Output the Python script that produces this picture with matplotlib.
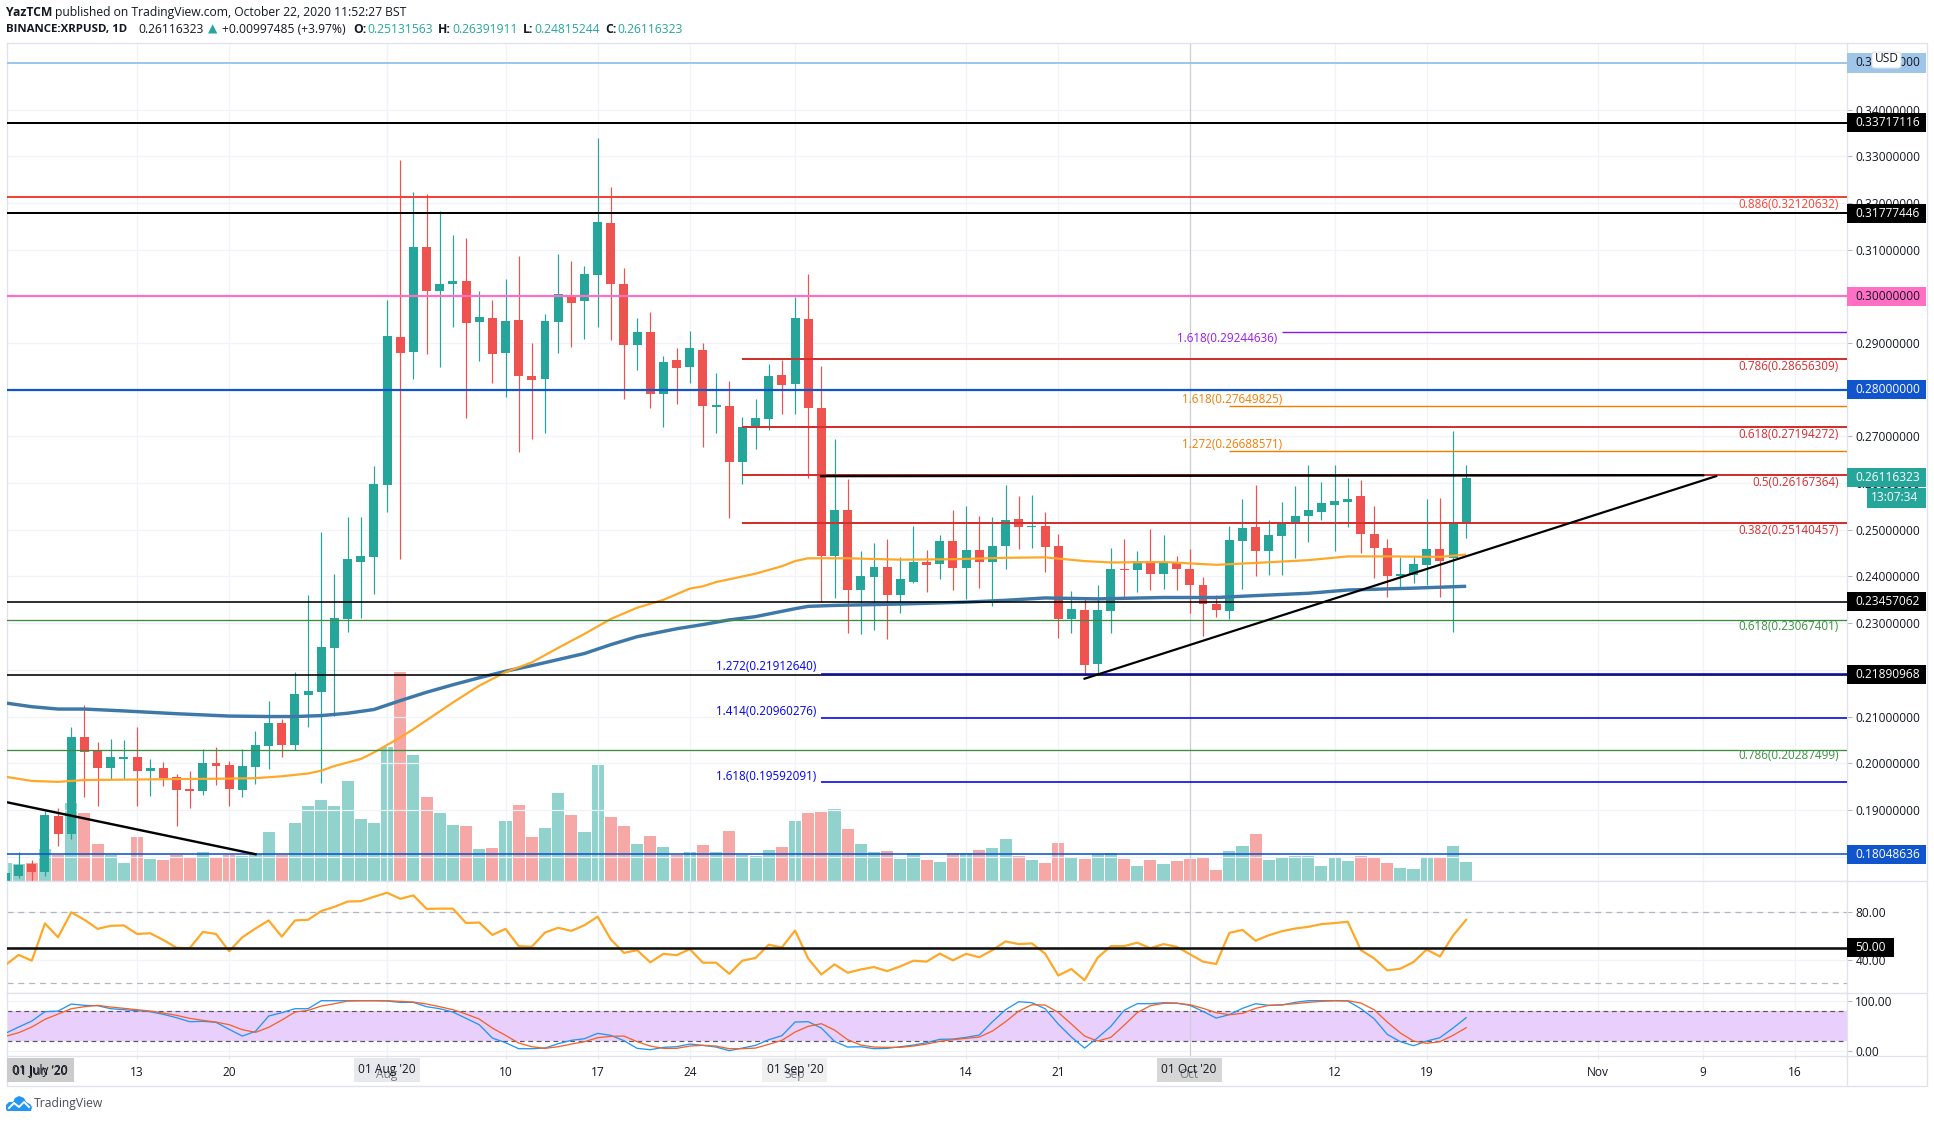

import numpy as np
import matplotlib
matplotlib.use('Agg')
import matplotlib.pyplot as plt
from matplotlib.patches import Rectangle, FancyBboxPatch, Polygon
from matplotlib.lines import Line2D

plt.rcParams['font.family'] = 'Open Sans'

W = 1934
H = 1122

# day number, 1 = 01 Jul 2020
days = np.arange(3, 115)

opens = [.1748,.1759,.1784,.1767,.1887,.1849,.2057,.2027,.1990,.2010,.2014,.1984,.1990,.1971,.1945,.1941,.2001,.1997,.1943,.1992,.2037,.2087,.2040,.2147,.2153,.2246,.2308,.2432,.2441,
         .2597,.2913,.2880,.3106,.3011,.3026,.3033,.2945,.2953,.2878,.2949,.2829,.2822,.2945,.2998,.2990,.3046,.3157,.3026,.2895,.2923,.2790,.2863,.2848,.2885,.2763,.2765,.2645,.2722,.2737,.2831,
         .2812,.2951,.2760,.2443,.2542,.2372,.2398,.2421,.2361,.2389,.2430,.2426,.2475,.2419,.2456,.2432,.2466,.2524,.2507,.2509,.2466,.2308,.2329,.2213,.2327,.2417,.2413,.2434,.2406,.2428,
         .2417,.2381,.2340,.2325,.2477,.2505,.2454,.2486,.2516,.2529,.2539,.2554,.2559,.2572,.2492,.2460,.2402,.2404,.2424,.2458,.2439,.25131563]
highs = [.1764,.1810,.1793,.1898,.1905,.2078,.2125,.2046,.2052,.2050,.2078,.2010,.2003,.1977,.1984,.2031,.2035,.2005,.2031,.2070,.2134,.2095,.2196,.2361,.2496,.2406,.2527,.2527,.2636,
         .2992,.3292,.3224,.3219,.3183,.3131,.3125,.3011,.2992,.3037,.3086,.2900,.2962,.3091,.3076,.3065,.3340,.3234,.3061,.2953,.2966,.2872,.2889,.2925,.2901,.2835,.2818,.2741,.2781,.2855,.2863,
         .2998,.3048,.2850,.2694,.2608,.2454,.2471,.2481,.2441,.2509,.2456,.2488,.2542,.2552,.2529,.2527,.2595,.2572,.2574,.2539,.2490,.2368,.2355,.2381,.2462,.2481,.2454,.2501,.2488,.2443,
         .2458,.2398,.2361,.2509,.2567,.2597,.2520,.2559,.2593,.2638,.2602,.2638,.2610,.2606,.2550,.2481,.2441,.2443,.2567,.2569,.2711,.26391911]
lows = [.1746,.1755,.1746,.1759,.1823,.1837,.1928,.1909,.1966,.1966,.1909,.1930,.1952,.1866,.1905,.1932,.1954,.1909,.1928,.1956,.1987,.2014,.2029,.2078,.1958,.2102,.2280,.2310,.2363,
        .2539,.2437,.2823,.2876,.2848,.2934,.2739,.2861,.2814,.2784,.2667,.2695,.2707,.2878,.2891,.2908,.2934,.2906,.2781,.2842,.2761,.2720,.2770,.2814,.2677,.2707,.2525,.2598,.2673,.2714,.2748,
        .2748,.2612,.2346,.2353,.2278,.2276,.2286,.2267,.2321,.2385,.2366,.2394,.2370,.2351,.2376,.2336,.2417,.2458,.2462,.2409,.2269,.2278,.2188,.2191,.2278,.2355,.2366,.2372,.2374,.2370,
        .2321,.2273,.2314,.2308,.2374,.2400,.2404,.2404,.2439,.2473,.2522,.2454,.2507,.2451,.2396,.2357,.2376,.2387,.2381,.2355,.2280,.24815244]
closes = [.1764,.1782,.1767,.1889,.1849,.2057,.2025,.1989,.2014,.2014,.1984,.1990,.1969,.1943,.1941,.2001,.1995,.1945,.1995,.2040,.2087,.2040,.2149,.2155,.2248,.2310,.2437,.2443,.2599,
          .2915,.2878,.3106,.3011,.3026,.3033,.2943,.2956,.2876,.2947,.2829,.2820,.2947,.3005,.2985,.3048,.3159,.3026,.2895,.2923,.2790,.2859,.2846,.2889,.2765,.2767,.2645,.2720,.2739,.2829,.2810,
          .2953,.2760,.2443,.2542,.2372,.2400,.2421,.2361,.2394,.2432,.2424,.2475,.2419,.2456,.2432,.2466,.2520,.2505,.2509,.2464,.2308,.2331,.2211,.2329,.2415,.2413,.2434,.2406,.2428,.2417,
          .2381,.2340,.2329,.2479,.2503,.2454,.2488,.2514,.2529,.2542,.2557,.2561,.2567,.2492,.2460,.2400,.2406,.2426,.2458,.2434,.2514,.26116323]

volume = [54,51,54,96,78,234,204,111,78,54,132,66,63,78,69,87,72,78,75,81,147,78,174,225,243,225,300,186,174,
          402,627,378,252,204,168,165,96,99,180,228,132,159,264,198,147,348,192,165,111,135,102,78,87,108,87,150,78,75,93,102,
          180,204,207,216,156,111,87,90,66,84,63,57,84,84,93,99,126,75,63,54,114,69,66,81,84,66,45,63,51,60,
          66,69,33,90,105,141,63,69,75,75,45,72,60,75,72,54,39,36,72,69,105,57]

rsi = [35.4,44,39.1,70.6,58.9,80,73.7,66,68.6,68.9,61.7,62.3,56.6,50,49.7,63.4,61.7,47.1,58.9,66.3,73.1,59.4,73.1,73.7,81.1,84.6,89.1,89.4,93.1,
       96.6,91.4,94.3,82.9,83.1,83.1,70.9,71.4,60.9,66,51.4,50.9,62.9,66.9,64.3,69.1,76.3,57.1,45.7,48,37.7,44.9,43.7,48.9,37.4,37.4,28,39.1,41.4,52.6,50.3,
       64.6,40.9,27.4,36,28.9,31.7,33.7,30.3,34.3,39.1,38.3,45.1,39.4,44.9,42,48,55.4,53.1,53.7,45.1,26.6,32,22.6,41.7,51.4,51.4,54.3,49.7,53.1,50.9,
       44.6,38.3,36.3,62.6,65.1,56,60.6,64,66.3,67.7,70,70.9,72,48,41.1,30.9,32.3,38,48.6,42.6,60.3,73.7]

stoch_k = [34.7,47.3,59.3,78,79.3,93.3,90.7,90,84,82,80,78,72.7,66,58,58.7,56.7,42.7,29.3,38.7,69.3,76,84,84,100,100,100,100,100,
           99.3,96.7,96.7,88,84,77.3,64.7,52,25.3,16,4,4,5.3,14,20.7,24,34.7,30.7,20,4.7,2,6.7,8,13.3,10.7,7.3,0,5.3,10.7,22,30,
           57.3,58,45.3,18.7,7.3,8,4,4.7,8,11.3,16,22.7,23.3,26.7,31.3,58,82,98,96,84,53.3,27.3,5.3,26,48.7,80.7,94,94,96,95.3,
           90.7,78.7,65.3,72,84.7,94,90.7,91.3,96.7,100,100,100,99.3,84,64,32.7,18,10,19.3,26,45.3,66]
stoch_d = [28.7,36,47.3,62.7,73.3,84,88,90.7,87.3,84.7,82,79.3,75.3,70.7,64.7,60.7,57.3,52,42,36.7,46.7,61.3,77.3,80.7,89.3,94,99.3,100,100,
           100,98.7,97.3,93.3,88,82,73.3,63.3,45.3,30.7,15.3,8,4.7,8,13.3,18,26,28.7,29.3,18,9.3,4.7,4.7,9.3,10.7,9.3,4,4,5.3,12.7,20.7,
           37.3,48.7,54,41.3,22,11.3,7.3,6.7,6.7,9.3,13.3,18.7,22,24.7,27.3,39.3,58,79.3,92,91.3,76.7,53.3,29.3,19.3,26.7,50.7,76,90,94.7,94.7,
           92,84.7,76,72,74.7,84.7,90.7,92,94,96.7,98.7,100,100,95.3,82,57.3,35.3,19.3,14.7,18,30.7,46]

ma_slow_days = [3,5,7,9,12,16,20,23,25,27,29,31,33,35,37,39,41,43,47,49,51,54,56,58,60,63,64,66,71,76,79,82,86,91,95,98,102,105,110,114]
ma_slow = [.2129,.2121,.2116,.2116,.2112,.2106,.2101,.2100,.2100,.2102,.2107,.2115,.2134,.2152,.2168,.2183,.2197,.2209,.2235,.2254,.2271,.2288,.2297,
           .2307,.2314,.2331,.2336,.2338,.2341,.2345,.2349,.2354,.2352,.2355,.2355,.2359,.2364,.2371,.2375,.2379]
ma_fast_days = [3,5,7,9,13,16,20,22,24,26,27,28,30,31,33,34,37,39,41,43,45,47,49,51,53,55,56,57,60,62,63,64,67,71,75,79,82,85,87,91,95,98,102,105,108,112,114]
ma_fast = [.1971,.1962,.1960,.1964,.1965,.1966,.1967,.1968,.1972,.1978,.1984,.1994,.2009,.2023,.2055,.2073,.2130,.2166,.2195,.2216,.2247,.2277,.2309,.2333,.2350,.2374,.2379,
           .2388,.2406,.2422,.2433,.2439,.2439,.2436,.2437,.2440,.2441,.2433,.2430,.2431,.2425,.2429,.2435,.2443,.2443,.2442,.2447]

price_ticks = [.34,.33,.32,.31,.30,.29,.28,.27,.26,.25,.24,.23,.22,.21,.20,.19,.18]
time_tick_days = [13,20,41,48,55,76,83,104,111,124,132,139]
time_tick_labels = ['13','20','10','17','24','14','21','12','19','Nov','9','16']
month_days = [32,63,93]

# horizontal levels: price, colour, width in px
full_levels = [(.35,'#9fc5e8',2),(.33717116,'#000000',2),(.32120632,'#f44336',2),(.31777446,'#000000',2),
               (.30,'#ff70c5',2.2),(.28,'#1155cc',2.2),(.23457062,'#000000',1.6),(.23067401,'#3d8b40',1.3),
               (.21890968,'#000000',1.6),(.20287499,'#3d8b40',1.3),(.18048636,'#1155cc',1.6)]
fib_red = [.28656309,.27194272,.26167364,.25140457]
fib_blue = [.21912640,.20960276,.19592091]
fib_orange = [.27649825,.26688571]
fib_purple = [.29244636]

trend_up_days = [85,133]
trend_up = [.2181,.2615]
trend_down_days = [3,22]
trend_down = [.1917,.1805]
resist_days = [65,132]
resist = [.2615,.2617]

fib_labels = [('0.886(0.32120632)',1839,204.6,'#f44336'),('0.786(0.28656309)',1839,366.7,'#d32f2f'),
              ('0.618(0.27194272)',1839,434.6,'#d32f2f'),('0.5(0.26167364)',1839,482.4,'#d32f2f'),
              ('0.382(0.25140457)',1839,530,'#d32f2f'),('0.618(0.23067401)',1839,626,'#3d9142'),
              ('0.786(0.20287499)',1839,755.6,'#3d9142'),('1.618(0.29244636)',1277,338.7,'#9b19e6'),
              ('1.618(0.27649825)',1282,399.7,'#f57c00'),('1.272(0.26688571)',1282,445,'#f57c00'),
              ('1.272(0.21912640)',816,666.7,'#0000f0'),('1.414(0.20960276)',816,711.7,'#0000f0'),
              ('1.618(0.19592091)',816,776,'#0000f0')]

# price badges: price, text, background, text colour
badges = [(.35,'0.35000000','#9fc5e8','#131722'),(.33717116,'0.33717116','#000000','#ffffff'),
          (.31777446,'0.31777446','#000000','#ffffff'),(.30,'0.30000000','#ff70c5','#131722'),
          (.28,'0.28000000','#1155cc','#ffffff'),(.26116323,'0.26116323','#26a69a','#ffffff'),
          (.23457062,'0.23457062','#000000','#ffffff'),(.21890968,'0.21890968','#000000','#ffffff'),
          (.18048636,'0.18048636','#1155cc','#ffffff')]

GREEN = '#26a69a'
RED = '#ef5350'
GRID = '#f0f3fa'
BORDER = '#e0e3eb'
TEXT = '#131722'
LABEL = 8.6


def px(n):
    # line width from pixels
    return n * 72.0 / 100.0


def ptext(x, y, s, **kw):
    kw.setdefault('va', 'center')
    kw.setdefault('color', TEXT)
    kw.setdefault('fontsize', LABEL)
    return fig.text(x / W, 1 - y / H, s, **kw)


def prect(x0, y0, x1, y1, color, **kw):
    r = Rectangle((x0 / W, 1 - y1 / H), (x1 - x0) / W, (y1 - y0) / H, transform=fig.transFigure,
                  facecolor=color, edgecolor='none', **kw)
    fig.add_artist(r)
    return r


def panel(y0, y1):
    return fig.add_axes([6.5 / W, 1 - y1 / H, (1847.3 - 6.5) / W, (y1 - y0) / H])


fig = plt.figure(figsize=(W / 100, H / 100), dpi=100, facecolor='white')

xlim = (3.08, 142.96)

ax_vol = panel(43.3, 881.3)
ax = panel(43.3, 881.3)
ax_rsi = panel(881.3, 993.3)
ax_st = panel(993.3, 1056.3)

ax_vol.set_zorder(1)
ax.set_zorder(2)
ax.patch.set_visible(False)
ax_rsi.set_zorder(2)
ax_st.set_zorder(2)

opens_a = np.array(opens)
closes_a = np.array(closes)
colors = [GREEN if c >= o else RED for o, c in zip(opens_a, closes_a)]

# volume underneath
ax_vol.bar(days, volume, width=0.92, color=colors, alpha=0.5, linewidth=0)
ax_vol.set_xlim(xlim)
ax_vol.set_ylim(0, 2514)
ax_vol.set_xticks([])
ax_vol.set_yticks([])
for s in ax_vol.spines.values():
    s.set_visible(False)

# candles
ax.vlines(days, lows, highs, colors=colors, linewidth=px(1.2), zorder=3)
ax.bar(days, np.abs(closes_a - opens_a), bottom=np.minimum(opens_a, closes_a), width=0.68,
       color=colors, linewidth=0, zorder=3.1)

ax.plot(ma_slow_days, ma_slow, color='#3d78a8', lw=px(3.4), zorder=4, solid_capstyle='butt')
ax.plot(ma_fast_days, ma_fast, color='#ffa726', lw=px(2.2), zorder=4.1, solid_capstyle='butt')

for price, col, w in full_levels:
    ax.axhline(price, color=col, lw=px(w), zorder=5)

for price in fib_red:
    ax.hlines(price, 59, xlim[1], color='#d32f2f', lw=px(2), zorder=5)
for price in fib_blue:
    ax.hlines(price, 65, xlim[1], color='#0000e6', lw=px(1.6), zorder=5.1)
for price in fib_orange:
    ax.hlines(price, 96, xlim[1], color='#f57c00', lw=px(1.4), zorder=5)
for price in fib_purple:
    ax.hlines(price, 100, xlim[1], color='#8a17e8', lw=px(1.4), zorder=5)

ax.plot(resist_days, resist, color='#000000', lw=px(2.4), zorder=6)
ax.plot(trend_up_days, trend_up, color='#000000', lw=px(2.2), zorder=6)
ax.plot(trend_down_days, trend_down, color='#000000', lw=px(2.4), zorder=6)

# 0.35 sits at y = 63 px, 4668 px per unit of price
ax.set_ylim(.35 - (881.3 - 63) / 4668, .35 + (63 - 43.3) / 4668)
ax.set_yticks(price_ticks)
ax.set_yticklabels(['%.8f' % p for p in price_ticks])

# rsi panel
ax_rsi.plot(days, rsi, color='#ffa726', lw=px(2.2), zorder=4)
ax_rsi.axhline(80, color='#b2b5be', lw=px(1.2), ls=(0, (5, 4)), zorder=2)
ax_rsi.axhline(20, color='#b2b5be', lw=px(1.2), ls=(0, (5, 4)), zorder=2)
ax_rsi.axhline(50, color='#111111', lw=px(2.6), zorder=5)
ax_rsi.set_ylim(80 - (993.3 - 912.3) / 1.183, 80 + (912.3 - 881.3) / 1.183)
ax_rsi.set_yticks([40, 80])
ax_rsi.set_yticklabels(['40.00', '80.00'])

# stoch panel
ax_st.axhspan(20, 80, color='#e9cffb', lw=0, zorder=1)
ax_st.axhline(80, color='#5d5566', lw=px(1.2), ls=(0, (4, 3)), zorder=2)
ax_st.axhline(20, color='#5d5566', lw=px(1.2), ls=(0, (4, 3)), zorder=2)
ax_st.plot(days, stoch_k, color='#2196f3', lw=px(1.3), zorder=3)
ax_st.plot(days, stoch_d, color='#f4622a', lw=px(1.3), zorder=3.1)
ax_st.set_ylim(-11.2, 114.8)
ax_st.set_yticks([0, 100])
ax_st.set_yticklabels(['0.00', '100.00'])

for a in (ax, ax_rsi, ax_st):
    a.set_xlim(xlim)
    a.set_xticks(time_tick_days + month_days)
    a.grid(True, color=GRID, lw=px(1.2))
    a.set_axisbelow(True)
    a.tick_params(axis='y', left=False, right=True, labelleft=False, labelright=True,
                  length=3.3, width=0.7, color='#b2b5be', labelcolor=TEXT, labelsize=LABEL, pad=2.5)
    a.tick_params(axis='x', bottom=False, labelbottom=False)
    for s in a.spines.values():
        s.set_color(BORDER)
        s.set_linewidth(px(1.3))

ax_st.tick_params(axis='x', bottom=True, labelbottom=True, length=2, width=0.7, color=BORDER,
                  labelcolor=TEXT, labelsize=LABEL, pad=5)
ax_st.set_xticklabels(time_tick_labels + [''] * len(month_days))

# stronger lines at the month starts
for a in (ax, ax_rsi, ax_st):
    a.axvline(32, color='#e4e6ec', lw=px(1.2), zorder=0.5)
    a.axvline(93, color='#ccced6', lw=px(1.2), zorder=2.5)

# frame of the right scale and time scale
fig.add_artist(Line2D([1847.3 / W, 1927 / W, 1927 / W, 6.5 / W, 6.5 / W],
                      [1 - 43.3 / H, 1 - 43.3 / H, 1 - 1085.7 / H, 1 - 1085.7 / H, 1 - 1056.3 / H],
                      color=BORDER, lw=px(1.3)))
fig.add_artist(Line2D([1847.3 / W, 1847.3 / W], [1 - 1056.3 / H, 1 - 1085.7 / H], color=BORDER, lw=px(1.3)))
for yy in (881.3, 993.3, 1056.3):
    fig.add_artist(Line2D([1847.3 / W, 1927 / W], [1 - yy / H, 1 - yy / H], color=BORDER, lw=px(1.3)))

# fib labels
for s, x, y, col in fib_labels:
    ptext(x, y, s, color=col, ha='right', fontsize=8.4)

# badges on the price scale
for price, s, bg, fg in badges:
    yc = (1 - ax.transData.transform((0, price))[1] / H) * H
    prect(1847, yc - 9.5, 1926, yc + 9.5, bg, zorder=5)
    ptext(1855, yc, s, color=fg, zorder=6)

# countdown
prect(1867, 488, 1926, 507.5, GREEN, zorder=5)
ptext(1871, 497.8, '13:07:34', color='#ffffff', zorder=6)

# 50 on the rsi scale
prect(1847, 937.8, 1894, 956.8, '#000000', zorder=5)
ptext(1855, 947.3, '50.00', color='#ffffff', zorder=6)

# USD button
fig.add_artist(FancyBboxPatch((1872 / W, 1 - 68 / H), 29 / W, 16 / H, boxstyle='round,pad=0,rounding_size=0.002',
                              transform=fig.transFigure, facecolor='white', edgecolor=BORDER, lw=0.8, zorder=7))
ptext(1886.5, 59, 'USD', ha='center', zorder=8)

# month pills on the time scale
prect(7, 1058, 74, 1081.5, '#cbcbcb', zorder=2)
prect(354, 1058, 419.5, 1081.5, '#e8e9ed', zorder=2)
prect(762, 1058, 826.5, 1081.5, '#f0f0f0', zorder=2)
prect(1157, 1058, 1221.5, 1081.5, '#d6d6d6', zorder=2)
ptext(40, 1070.5, "01 July '20", ha='center', zorder=4)
ptext(40, 1070.5, "01 Jun '20", ha='center', zorder=4)
ptext(387, 1069.5, "01 Aug '20", ha='center', zorder=4)
ptext(387, 1074.5, 'Aug', ha='center', color='#787b86', zorder=3)
ptext(795, 1069.5, "01 Sep '20", ha='center', zorder=4)
ptext(795, 1074.5, 'Sep', ha='center', color='#787b86', zorder=3)
ptext(1189, 1069.5, "01 Oct '20", ha='center', zorder=4)
ptext(1189, 1074.5, 'Oct', ha='center', color='#787b86', zorder=3)

# header
HEAD = 8.75
ptext(6.5, 12.7, 'YazTCM', fontweight='bold', fontsize=HEAD)
ptext(55, 12.7, 'published on TradingView.com, October 22, 2020 11:52:27 BST', fontsize=HEAD)
ptext(6.5, 29.3, 'BINANCE:XRPUSD, 1D', fontweight='bold', fontsize=HEAD - 0.5)
ptext(138, 29.3, '0.26116323', fontsize=HEAD)
ptext(208, 29.3, '\u25b2', color=GREEN, fontsize=HEAD, family='DejaVu Sans')
ptext(222, 29.3, '+0.00997485 (+3.97%)', fontsize=HEAD)
for lab, x0, val, x1 in [('O:', 353, '0.25131563', 367), ('H:', 438, '0.26391911', 452),
                         ('L:', 523, '0.24815244', 534), ('C:', 605, '0.26116323', 617)]:
    ptext(x0, 29.3, lab, fontweight='bold', fontsize=HEAD)
    ptext(x1, 29.3, val, color=GREEN, fontsize=HEAD)

# tradingview logo
ax_logo = fig.add_axes([6 / W, 1 - 1112 / H, 26 / W, 16 / H])
ax_logo.set_xlim(0, 26)
ax_logo.set_ylim(16, 0)
ax_logo.axis('off')
ax_logo.add_patch(Polygon([(0, 13), (0, 9), (3, 6), (7, 6), (9, 2), (13, 0), (18, 2), (20, 6), (24, 8), (26, 11), (25, 15), (1, 15)],
                          closed=True, facecolor='#2196f3', edgecolor='none'))
ax_logo.plot([3, 8, 13, 18, 23], [12, 7, 11, 6, 11], color='white', lw=1.4)
ptext(34, 1104, 'TradingView', fontsize=HEAD, color='#4a4e5a')

fig.savefig('out.png', dpi=100, facecolor='white')
